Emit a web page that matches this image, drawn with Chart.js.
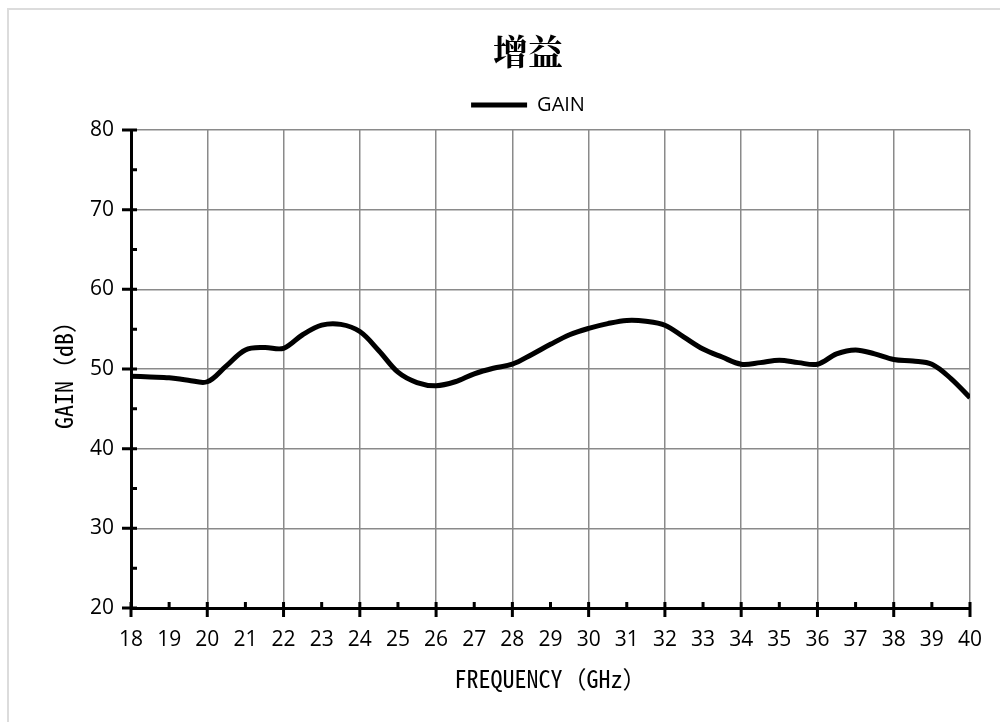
<!DOCTYPE html>
<html>
<head>
<meta charset="utf-8">
<script src="https://cdn.jsdelivr.net/npm/chart.js@4.4.1/dist/chart.umd.min.js"></script>
<style>
  html, body { margin: 0; padding: 0; background: #fff; }
  #wrap { position: relative; width: 1000px; height: 722px; overflow: hidden; }
  #frame { position: absolute; left: 7px; top: 8px; width: 1100px; height: 800px;
           border-top: 2px solid #dcdcdc; border-left: 2px solid #dcdcdc; }
  #gainChart { position: absolute; left: 0; top: 0; }
</style>
</head>
<body>
<div id="wrap">
  <div id="frame"></div>
  <canvas id="gainChart" width="1000" height="722"></canvas>
</div>
<script>
// frequency points (GHz) and gain
const freqs = [18, 18.5, 19, 19.5, 20, 20.5, 21, 21.5, 22, 22.5, 23, 23.5, 24, 24.5, 25, 25.5,
  26, 26.5, 27, 27.5, 28, 28.5, 29, 29.5, 30, 30.5, 31, 31.5, 32, 32.5, 33, 33.5,
  34, 34.5, 35, 35.5, 36, 36.5, 37, 37.5, 38, 38.5, 39, 39.5, 40];
const gainDb = [49.1, 49.0, 48.9, 48.6, 48.4, 50.4, 52.4, 52.7, 52.6, 54.3, 55.5, 55.6, 54.7, 52.3, 49.6, 48.3,
  47.9, 48.4, 49.4, 50.1, 50.6, 51.8, 53.1, 54.3, 55.1, 55.7, 56.1, 56.0, 55.5, 54.0, 52.5, 51.5,
  50.6, 50.8, 51.1, 50.8, 50.6, 51.9, 52.4, 51.9, 51.2, 51.0, 50.6, 48.8, 46.4];

const xMin = 18, xMax = 40;
const yMin = 20, yMax = 80;

const tickFont = { family: "'Open Sans', sans-serif", size: 21 };
const titleFontFamily = "'Noto Sans Mono CJK SC', 'DejaVu Sans Mono', 'Noto Sans CJK SC', monospace";

// draws the small tick marks: majors cross the axis, minors sit inside
const axisTicks = {
  id: 'axisTicks',
  afterDatasetsDraw(chart) {
    const { ctx, chartArea, scales: { x, y } } = chart;
    ctx.save();
    ctx.strokeStyle = '#000';
    ctx.lineWidth = 3;
    ctx.beginPath();
    for (let v = xMin; v <= xMax; v++) {
      const px = x.getPixelForValue(v);
      if (v % 2 === 0) {
        ctx.moveTo(px, chartArea.bottom - 6);
        ctx.lineTo(px, chartArea.bottom + 9);
      } else {
        ctx.moveTo(px, chartArea.bottom);
        ctx.lineTo(px, chartArea.bottom - 6);
      }
    }
    for (let v = yMin; v <= yMax; v += 5) {
      const py = y.getPixelForValue(v);
      if (v % 10 === 0) {
        ctx.moveTo(chartArea.left - 9, py);
        ctx.lineTo(chartArea.left + 6, py);
      } else {
        ctx.moveTo(chartArea.left, py);
        ctx.lineTo(chartArea.left + 6, py);
      }
    }
    ctx.stroke();
    ctx.restore();
  }
};

const ctx = document.getElementById('gainChart').getContext('2d');
new Chart(ctx, {
  type: 'line',
  data: {
    labels: freqs,
    datasets: [{
      label: 'GAIN',
      data: freqs.map((f, i) => ({ x: f, y: gainDb[i] })),
      borderColor: '#000',
      backgroundColor: '#000',
      borderWidth: 5,
      pointRadius: 0,
      fill: false,
      tension: 0.35
    }]
  },
  options: {
    responsive: false,
    animation: false,
    devicePixelRatio: 1,
    layout: { padding: { left: 56, right: 0, top: 0, bottom: 0 } },
    plugins: {
      title: {
        display: true,
        text: '增益',
        color: '#000',
        font: { family: "'Noto Serif CJK SC', 'Noto Sans CJK SC', serif", size: 35, weight: 'bold' },
        padding: { top: 31, bottom: 0 }
      },
      legend: {
        display: true,
        labels: {
          color: '#000',
          font: { family: "'Open Sans', sans-serif", size: 20 },
          usePointStyle: true,
          pointStyle: 'line',
          pointStyleWidth: 56,
          padding: 22
        }
      },
      subtitle: {
        // small spacer between legend and plot
        display: true,
        text: '',
        weight: 100,
        font: { size: 1, lineHeight: 1 },
        padding: { top: 4, bottom: 0 }
      },
      tooltip: { enabled: false }
    },
    scales: {
      x: {
        type: 'linear',
        min: xMin,
        max: xMax,
        ticks: { stepSize: 1, color: '#000', font: tickFont, padding: 19, maxRotation: 0, autoSkip: false },
        grid: {
          drawTicks: false,
          lineWidth: 1.5,
          color: c => (c.tick && c.tick.value % 2 === 0) ? '#8a8a8a' : 'rgba(0,0,0,0)'
        },
        border: { display: true, color: '#000', width: 3 },
        title: {
          display: true,
          text: 'FREQUENCY（GHz）',
          color: '#000',
          font: { family: titleFontFamily, size: 24 },
          padding: { top: 0, bottom: 29 }
        },
        afterFit(scale) { scale.height = 114; scale.paddingRight = 30; }
      },
      y: {
        min: yMin,
        max: yMax,
        ticks: { stepSize: 10, color: '#000', font: tickFont, padding: 17 },
        grid: { drawTicks: false, lineWidth: 1.5, color: '#8a8a8a' },
        border: { display: true, color: '#000', width: 3 },
        title: {
          display: true,
          text: 'GAIN（dB）',
          color: '#000',
          font: { family: titleFontFamily, size: 24 },
          padding: { top: -7, bottom: 0 }
        },
        afterFit(scale) { scale.width = 75; }
      }
    }
  },
  plugins: [axisTicks]
});
</script>
</body>
</html>
